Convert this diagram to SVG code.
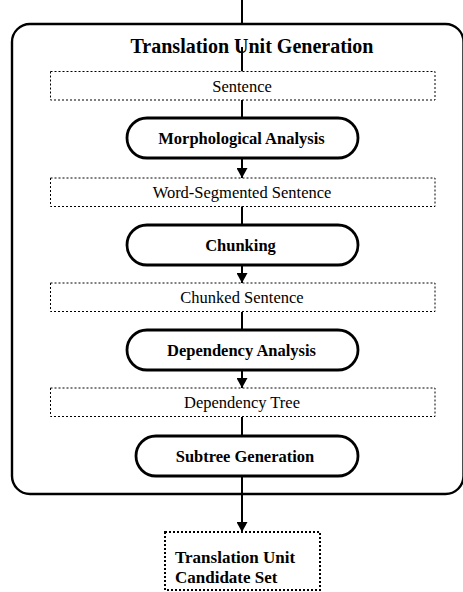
<svg xmlns="http://www.w3.org/2000/svg" width="463" height="592" viewBox="0 0 463 592">
  <style>
    .frame { fill: none; stroke: #000; stroke-width: 2.4; }
    .proc { fill: #fff; stroke: #000; stroke-width: 2.8; }
    .data { fill: #fff; stroke: #000; stroke-width: 1; stroke-dasharray: 2 2; }
    .out { fill: #fff; stroke: #000; stroke-width: 2; stroke-dasharray: 2 2; }
    .wire { fill: none; stroke: #000; stroke-width: 2; }
    text { font-family: "Liberation Serif", "Times New Roman", serif; fill: #000; text-anchor: middle; }
    .reg { font-size: 16.5px; }
    .bold { font-size: 16.5px; font-weight: bold; }
    .title { font-size: 20px; font-weight: bold; }
    .left { text-anchor: start; font-size: 17px; font-weight: bold; }
  </style>
  <defs>
    <marker id="head" markerWidth="10" markerHeight="11" refX="10" refY="5.5" orient="auto" markerUnits="userSpaceOnUse">
      <path d="M0,0 L10,5.5 L0,11 Z" fill="#000"/>
    </marker>
  </defs>

  <!-- enclosing stage -->
  <g id="stage">
    <rect class="frame" x="12" y="24" width="451.5" height="470" rx="18" ry="18"/>
    <text class="title" x="252" y="53">Translation Unit Generation</text>
  </g>

  <!-- connectors -->
  <g id="connectors">
    <line class="wire" x1="242" y1="0" x2="242" y2="24"/>
    <line class="wire" x1="242" y1="47" x2="242" y2="71.5"/>
    <line class="wire" x1="242" y1="100" x2="242" y2="118"/>
    <line class="wire" x1="242" y1="158" x2="242" y2="178" marker-end="url(#head)"/>
    <line class="wire" x1="242" y1="206" x2="242" y2="225"/>
    <line class="wire" x1="242" y1="265" x2="242" y2="283" marker-end="url(#head)"/>
    <line class="wire" x1="242" y1="312" x2="242" y2="330"/>
    <line class="wire" x1="242" y1="370" x2="242" y2="388" marker-end="url(#head)"/>
    <line class="wire" x1="242" y1="417" x2="242" y2="436"/>
    <line class="wire" x1="242" y1="476" x2="242" y2="532" marker-end="url(#head)"/>
  </g>

  <g id="sentence">
    <rect class="data" x="50.5" y="71.5" width="384.5" height="28.5"/>
    <text class="reg" x="242" y="92">Sentence</text>
  </g>

  <g id="morphological-analysis">
    <rect class="proc" x="127" y="118" width="231" height="40" rx="20" ry="20"/>
    <text class="bold" x="241.5" y="143.5">Morphological Analysis</text>
  </g>

  <g id="word-segmented-sentence">
    <rect class="data" x="50.5" y="178" width="384.5" height="28.5"/>
    <text class="reg" x="242" y="198">Word-Segmented Sentence</text>
  </g>

  <g id="chunking">
    <rect class="proc" x="127" y="225" width="231" height="40" rx="20" ry="20"/>
    <text class="bold" x="240.5" y="250.5">Chunking</text>
  </g>

  <g id="chunked-sentence">
    <rect class="data" x="50.5" y="283" width="384.5" height="28.5"/>
    <text class="reg" x="242" y="303">Chunked Sentence</text>
  </g>

  <g id="dependency-analysis">
    <rect class="proc" x="127" y="330" width="231" height="40" rx="20" ry="20"/>
    <text class="bold" x="241.5" y="355.5">Dependency Analysis</text>
  </g>

  <g id="dependency-tree">
    <rect class="data" x="50.5" y="388" width="384.5" height="28.5"/>
    <text class="reg" x="242" y="408">Dependency Tree</text>
  </g>

  <g id="subtree-generation">
    <rect class="proc" x="136" y="436" width="222" height="40" rx="20" ry="20"/>
    <text class="bold" x="245" y="461.5">Subtree Generation</text>
  </g>

  <g id="translation-unit-candidate-set">
    <rect class="out" x="165" y="532" width="155" height="58"/>
    <text class="left" x="175" y="563">Translation Unit</text>
    <text class="left" x="175" y="583">Candidate Set</text>
  </g>
</svg>
